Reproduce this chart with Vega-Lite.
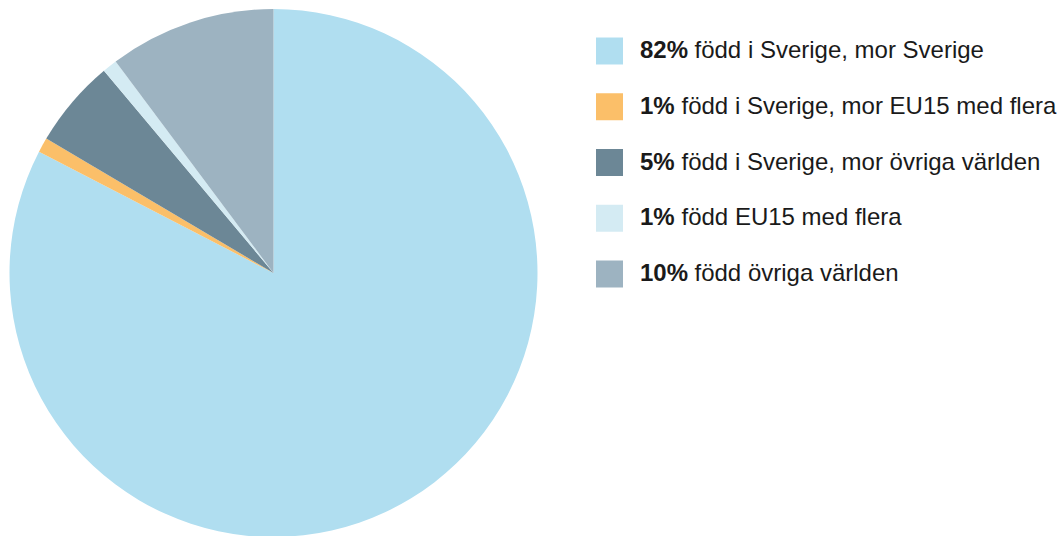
{
  "$schema": "https://vega.github.io/schema/vega-lite/v6.json",
  "padding": 0,
  "background": "white",
  "config": {"view": {"stroke": null}, "font": "Liberation Sans"},
  "data": {"values": [
    {"kat": "född i Sverige, mor Sverige", "pct": "82%", "value": 82.6, "ord": 1},
    {"kat": "född i Sverige, mor EU15 med flera", "pct": "1%", "value": 0.9, "ord": 2},
    {"kat": "född i Sverige, mor övriga världen", "pct": "5%", "value": 5.4, "ord": 3},
    {"kat": "född EU15 med flera", "pct": "1%", "value": 0.9, "ord": 4},
    {"kat": "född övriga världen", "pct": "10%", "value": 10.2, "ord": 5}
  ]},
  "spacing": 0,
  "hconcat": [
    {
      "width": 547,
      "height": 546,
      "mark": {"type": "arc", "outerRadius": 264},
      "encoding": {
        "theta": {"field": "value", "type": "quantitative", "stack": true},
        "order": {"field": "ord", "type": "quantitative"},
        "color": {
          "field": "kat", "type": "nominal", "legend": null,
          "scale": {
            "domain": ["född i Sverige, mor Sverige", "född i Sverige, mor EU15 med flera", "född i Sverige, mor övriga världen", "född EU15 med flera", "född övriga världen"],
            "range": ["#b0def0", "#fbbf69", "#6c8796", "#d4ebf3", "#9db3c1"]
          }
        }
      }
    },
    {
      "width": 125,
      "height": 546,
      "encoding": {
        "y": {"field": "kat", "type": "ordinal", "sort": {"field": "ord"}, "axis": null, "scale": {"type": "point", "padding": 0, "range": [51, 274]}}
      },
      "layer": [
        {
          "mark": {"type": "point", "shape": "square", "filled": true, "size": 729, "opacity": 1, "strokeWidth": 0},
          "encoding": {
            "color": {"field": "kat", "type": "nominal", "legend": null}
          }
        },
        {
          "mark": {"type": "text", "align": "left", "baseline": "middle", "dx": 30.5, "fontSize": 24, "fontWeight": "bold", "color": "#1a1a1a"},
          "encoding": {"text": {"field": "pct"}}
        },
        {
          "transform": [{"filter": "length(datum.pct) == 3"}],
          "mark": {"type": "text", "align": "left", "baseline": "middle", "dx": 85, "fontSize": 24, "color": "#1a1a1a"},
          "encoding": {"text": {"field": "kat"}}
        },
        {
          "transform": [{"filter": "length(datum.pct) == 2"}],
          "mark": {"type": "text", "align": "left", "baseline": "middle", "dx": 72, "fontSize": 24, "color": "#1a1a1a"},
          "encoding": {"text": {"field": "kat"}}
        }
      ]
    }
  ]
}
